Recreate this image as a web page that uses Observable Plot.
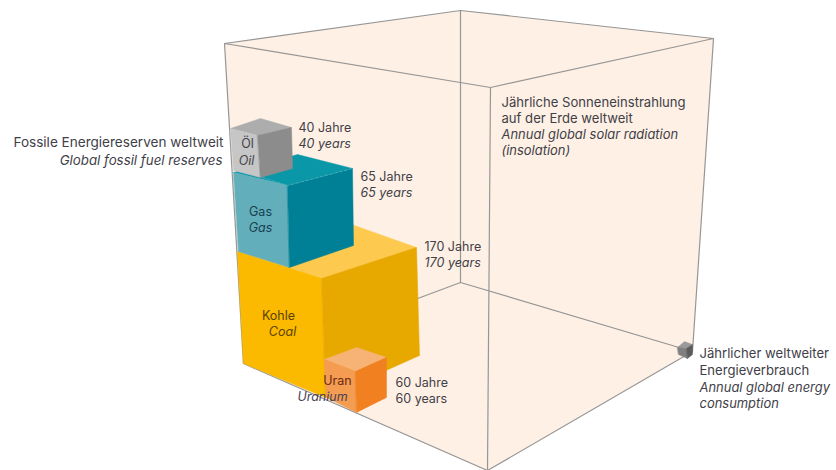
<!DOCTYPE html>
<html><head><meta charset="utf-8">
<style>html,body{margin:0;padding:0;background:#fff}svg{display:block}</style>
<script src="https://cdn.jsdelivr.net/npm/d3@7"></script>
<script src="https://cdn.jsdelivr.net/npm/@observablehq/plot@0.6"></script>
</head><body><script>
// Corner positions, in the picture's own units
const boxShell = [[224,43],[460,10],[713,38],[692,351],[487,470],[243,363]];
const boxEdges = [
  [[224,43],[460,10],[713,38],[490,87],[224,43]],
  [[224,43],[243,363],[487,470],[692,351],[713,38]],
  [[490,87],[487,470]],
  [[460,10],[460,282]],
  [[243,363],[460,282],[692,351]]
];
const coalFaces = [
  ["#fdc94f",[[237,251],[331,217],[416,247],[321,278]]],
  ["#fbb900",[[237,251],[321,278],[325,397],[243,363]]],
  ["#e7a800",[[321,278],[416,247],[419,355],[325,397]]]
];
const gasFaces = [
  ["#0a98a8",[[233,172],[297,154],[352,168],[287,185]]],
  ["#62aebb",[[233,172],[287,185],[289,267],[238,251]]],
  ["#008096",[[287,185],[352,168],[353,245],[289,267]]]
];
const oilFaces = [
  ["#adadad",[[230,128],[260,118],[291,127],[257,135]]],
  ["#c6c6c6",[[230,128],[257,135],[260,177],[233,170]]],
  ["#8c8c8c",[[257,135],[291,127],[292,168],[260,177]]]
];
const uraniumFaces = [
  ["#f6b375",[[324,359],[356,347],[386,357],[355,371]]],
  ["#f39c52",[[324,359],[355,371],[356,412],[326,397]]],
  ["#f08020",[[355,371],[386,357],[386,397],[356,412]]]
];
const demandFaces = [
  ["#9a9a9a",[[677,347],[684,341],[692,344],[686,348]]],
  ["#808080",[[677,347],[686,348],[687,358],[678,354]]],
  ["#5c5c5c",[[686,348],[692,344],[692,354],[687,358]]]
];
const gasDash = [[262,177],[287,185],[352,168]];
const years = [40,65,170,60];
const yearAnchors = [[298,127],[360,176],[424,246],[395,382]];

const faceRows = [...coalFaces,...gasFaces,...oilFaces,...uraniumFaces,...demandFaces]
  .flatMap(([color,pts],i)=>pts.map(([x,y])=>({x,y,face:i,color})));
const edgeRows = boxEdges.flatMap((pts,i)=>pts.map(([x,y])=>({x,y,edge:i})));
const shellRows = boxShell.map(([x,y])=>({x,y}));
const dashRows = gasDash.map(([x,y])=>({x,y}));

const ink = "#3f4048";
const notesPlain = [
  {x:501,y:102,t:"Jährliche Sonneneinstrahlung"},
  {x:501,y:118,t:"auf der Erde weltweit"},
  {x:699,y:353,t:"Jährlicher weltweiter"},
  {x:699,y:370,t:"Energieverbrauch"}
];
const notesItalic = [
  {x:501,y:134,t:"Annual global solar radiation"},
  {x:501,y:150,t:"(insolation)"},
  {x:699,y:387,t:"Annual global energy"},
  {x:699,y:403,t:"consumption"}
];
const yearsPlain = [
  ...years.map((v,i)=>({x:yearAnchors[i][0],y:yearAnchors[i][1],t:v+" Jahre"})),
  {x:395,y:398,t:years[3]+" years"}
];
const yearsItalic = years.slice(0,3).map((v,i)=>({x:yearAnchors[i][0],y:yearAnchors[i][1]+16,t:v+" years"}));
const innerPlain = [
  {x:247,y:143,t:"Öl",c:"#44444a"},
  {x:260,y:211,t:"Gas",c:"#17404f"},
  {x:278,y:315,t:"Kohle",c:"#5a4200"},
  {x:337,y:380,t:"Uran",c:"#6e2a14"}
];
const innerItalic = [
  {x:246,y:160,t:"Oil",c:"#44444a"},
  {x:260,y:227,t:"Gas",c:"#17404f"},
  {x:282,y:331,t:"Coal",c:"#5a4200"},
  {x:322,y:396,t:"Uranium",c:"#4a4056"}
];
const font = {fontSize:12.5, fontFamily:"Inter, sans-serif", lineAnchor:"middle", text:"t", x:"x", y:"y"};

const chart = Plot.plot({
  width:836, height:470, margin:0,
  x:{domain:[0,836],range:[0,836],axis:null},
  y:{domain:[0,470],range:[0,470],axis:null},
  style:{background:"#fff"},
  marks:[
    Plot.line(shellRows,{x:"x",y:"y",curve:"linear-closed",fill:"#fef0e4",stroke:"none"}),
    Plot.line(edgeRows,{x:"x",y:"y",z:"edge",stroke:"#969696",strokeWidth:1.2}),
    Plot.line(faceRows,{x:"x",y:"y",z:"face",curve:"linear-closed",fill:"color",stroke:"color",strokeWidth:0.5}),
    Plot.line(dashRows,{x:"x",y:"y",stroke:"#4fb4c0",strokeWidth:0.8,strokeDasharray:"3 2"}),
    Plot.text(notesPlain,{...font,fontSize:13.1,textAnchor:"start",fill:ink}),
    Plot.text(notesItalic,{...font,fontSize:12.95,textAnchor:"start",fill:ink,fontStyle:"italic"}),
    Plot.text(yearsPlain,{...font,textAnchor:"start",fill:ink}),
    Plot.text(yearsItalic,{...font,textAnchor:"start",fill:ink,fontStyle:"italic"}),
    Plot.text([{x:223,y:142,t:"Fossile Energiereserven weltweit"}],{...font,fontSize:13.55,textAnchor:"end",fill:ink}),
    Plot.text([{x:222,y:160,t:"Global fossil fuel reserves"}],{...font,fontSize:13.3,textAnchor:"end",fill:ink,fontStyle:"italic"}),
    Plot.text(innerPlain,{...font,textAnchor:"middle",fill:"c"}),
    Plot.text(innerItalic,{...font,textAnchor:"middle",fill:"c",fontStyle:"italic"})
  ]
});
document.body.appendChild(chart);
</script></body></html>
